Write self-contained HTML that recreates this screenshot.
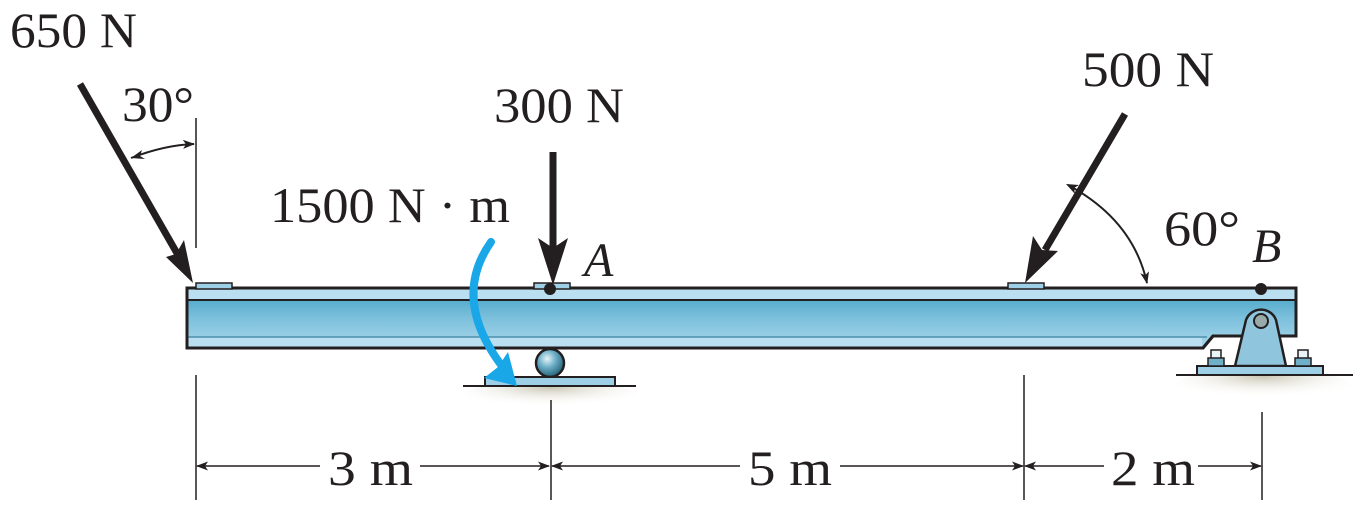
<!DOCTYPE html>
<html><head><meta charset="utf-8"><style>
html,body{margin:0;padding:0;background:#fff;width:1366px;height:522px;overflow:hidden}
svg text{font-family:"Liberation Serif","Times New Roman",Times,serif;fill:#231f20}
</style></head><body>
<svg width="1366" height="522" viewBox="0 0 1366 522" xmlns="http://www.w3.org/2000/svg" font-family="Liberation Serif, Times New Roman, serif">
<defs>
<linearGradient id="web" x1="0" y1="0" x2="0" y2="1">
<stop offset="0" stop-color="#3f9fc2"/><stop offset="0.5" stop-color="#7cc0dc"/><stop offset="1" stop-color="#a9d6ea"/>
</linearGradient>
<radialGradient id="gnd" cx="0.5" cy="0.2" r="0.6">
<stop offset="0" stop-color="#c9c6b3"/><stop offset="1" stop-color="#fff" stop-opacity="0"/>
</radialGradient>
<radialGradient id="ball" cx="0.4" cy="0.35" r="0.6">
<stop offset="0" stop-color="#e8f4f8"/><stop offset="0.5" stop-color="#6fb0c8"/><stop offset="1" stop-color="#2f6f86"/>
</radialGradient>
<marker id="ah" markerWidth="12" markerHeight="9" refX="11" refY="4.5" orient="auto" markerUnits="userSpaceOnUse"><path d="M0,0 L12,4.5 L0,9 L3,4.5Z" fill="#231f20"/></marker>
</defs>

<ellipse cx="550" cy="397" rx="90" ry="16" fill="url(#gnd)"/>
<ellipse cx="1263" cy="387" rx="90" ry="18" fill="url(#gnd)"/>

<path d="M187,288 H1296 V336 H1213 L1203,348 H187 Z" fill="url(#web)" stroke="#231f20" stroke-width="3"/>
<rect x="188" y="289" width="1107" height="11" fill="#b9dff0"/>
<line x1="187" y1="300" x2="1296" y2="300" stroke="#231f20" stroke-width="2"/>
<rect x="188" y="337" width="1014" height="10" fill="#b9dff0"/>
<line x1="187" y1="337" x2="1207" y2="337" stroke="#4d8fac" stroke-width="1.5"/>
<path d="M187,288 H1296 V336 H1213 L1203,348 H187 Z" fill="none" stroke="#231f20" stroke-width="3"/>
<rect x="196" y="283" width="36" height="6" fill="#9dcfe6" stroke="#231f20" stroke-width="1.5"/>
<rect x="534" y="283" width="36" height="6" fill="#9dcfe6" stroke="#231f20" stroke-width="1.5"/>
<rect x="1008" y="283" width="36" height="6" fill="#9dcfe6" stroke="#231f20" stroke-width="1.5"/>

<circle cx="550" cy="363" r="14" fill="url(#ball)" stroke="#231f20" stroke-width="2.5"/>
<rect x="485" y="377" width="130" height="9" fill="#9dcfe6" stroke="#231f20" stroke-width="2"/>
<line x1="463" y1="386" x2="636" y2="386" stroke="#231f20" stroke-width="2"/>

<path d="M1235,366 L1246,320 A16,16 0 0 1 1276,320 L1286,366 Z" fill="#8fc6de" stroke="#231f20" stroke-width="2.5"/>
<circle cx="1261" cy="321" r="7" fill="#9aa" stroke="#231f20" stroke-width="2"/>
<rect x="1197" y="366" width="126" height="9" fill="#9dcfe6" stroke="#231f20" stroke-width="2"/>
<line x1="1176" y1="375" x2="1353" y2="375" stroke="#231f20" stroke-width="2"/>
<rect x="1211" y="350" width="10" height="9" fill="#e8f4f8" stroke="#231f20" stroke-width="1.5"/>
<rect x="1208" y="358" width="16" height="8" fill="#6fb0c8" stroke="#231f20" stroke-width="1.5"/>
<rect x="1298" y="350" width="10" height="9" fill="#e8f4f8" stroke="#231f20" stroke-width="1.5"/>
<rect x="1295" y="358" width="16" height="8" fill="#6fb0c8" stroke="#231f20" stroke-width="1.5"/>
<circle cx="1261" cy="289" r="6" fill="#231f20"/>
<circle cx="550" cy="289" r="6" fill="#231f20"/>

<line x1="80" y1="84" x2="178" y2="255" stroke="#231f20" stroke-width="7"/>
<path d="M193,283 L166,257 L176,254 L184,240 Z" fill="#231f20"/>
<line x1="196" y1="118" x2="196" y2="248" stroke="#231f20" stroke-width="1.5"/>
<path d="M131,158 Q165,145 194,144" fill="none" stroke="#231f20" stroke-width="2" marker-end="url(#ah)"/>
<path d="M131,158 l11,-8 l-2,6 l5,3z" fill="#231f20"/>

<line x1="553" y1="152" x2="553" y2="250" stroke="#231f20" stroke-width="7"/>
<path d="M553,285 L538,238 L553,248 L568,238 Z" fill="#231f20"/>

<line x1="1125" y1="114" x2="1045" y2="250" stroke="#231f20" stroke-width="7"/>
<path d="M1025,283 L1033,236 L1042,250 L1058,251 Z" fill="#231f20"/>
<path d="M1068,185 Q1133,220 1147,283" fill="none" stroke="#231f20" stroke-width="2" marker-end="url(#ah)"/>
<path d="M1066,184 l13,1 l-5,3 l1,6z" fill="#231f20"/>

<path d="M491,242 Q450,300 505,370" fill="none" stroke="#1aa7e8" stroke-width="8" stroke-linecap="round"/>
<path d="M517,386 L484,378 L498,367 L508,352 Z" fill="#1aa7e8"/>

<g stroke="#231f20" stroke-width="1.5">
<line x1="196" y1="375" x2="196" y2="500"/>
<line x1="551" y1="400" x2="551" y2="500"/>
<line x1="1024" y1="375" x2="1024" y2="500"/>
<line x1="1262" y1="412" x2="1262" y2="500"/>
<line x1="420" y1="466" x2="549" y2="466" marker-end="url(#ah)"/>
<line x1="320" y1="466" x2="197" y2="466" marker-end="url(#ah)"/>
<line x1="740" y1="466" x2="552" y2="466" marker-end="url(#ah)"/>
<line x1="840" y1="466" x2="1023" y2="466" marker-end="url(#ah)"/>
<line x1="1104" y1="466" x2="1025" y2="466" marker-end="url(#ah)"/>
<line x1="1198" y1="466" x2="1261" y2="466" marker-end="url(#ah)"/>
</g>

<text x="10" y="47" font-size="50" textLength="127" lengthAdjust="spacingAndGlyphs">650 N</text>
<text x="122" y="121" font-size="50" textLength="72" lengthAdjust="spacingAndGlyphs">30°</text>
<text x="494" y="122" font-size="50" textLength="130" lengthAdjust="spacingAndGlyphs">300 N</text>
<text x="270" y="222" font-size="50" textLength="240" lengthAdjust="spacingAndGlyphs">1500 N · m</text>
<text x="584" y="276" font-size="48" font-style="italic">A</text>
<text x="1082" y="86" font-size="50" textLength="132" lengthAdjust="spacingAndGlyphs">500 N</text>
<text x="1164" y="245" font-size="50" textLength="76" lengthAdjust="spacingAndGlyphs">60°</text>
<text x="1252" y="262" font-size="48" font-style="italic">B</text>
<text x="328" y="485" font-size="50" textLength="85" lengthAdjust="spacingAndGlyphs">3 m</text>
<text x="748" y="485" font-size="50" textLength="84" lengthAdjust="spacingAndGlyphs">5 m</text>
<text x="1111" y="485" font-size="50" textLength="84" lengthAdjust="spacingAndGlyphs">2 m</text>
</svg>
</body></html>
